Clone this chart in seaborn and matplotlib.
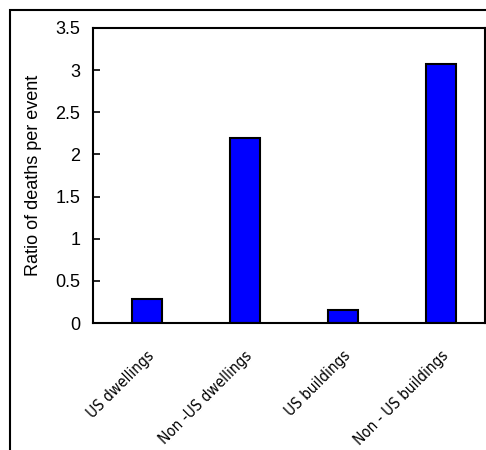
import matplotlib
matplotlib.use('Agg')
import matplotlib.pyplot as plt
import seaborn as sns
from matplotlib.patches import Rectangle

# data
categories = ['US dwellings', 'Non -US dwellings', 'US buildings', 'Non - US buildings']
ratios = [0.28, 2.20, 0.155, 3.07]
yticks = [0, 0.5, 1, 1.5, 2, 2.5, 3, 3.5]
ytick_labels = ['0', '0.5', '1', '1.5', '2', '2.5', '3', '3.5']

sns.set_style('ticks')
plt.rcParams['font.family'] = ['Liberation Sans', 'DejaVu Sans']
plt.rcParams['text.color'] = 'black'
plt.rcParams['axes.labelcolor'] = 'black'
plt.rcParams['xtick.color'] = 'black'
plt.rcParams['ytick.color'] = 'black'

fig = plt.figure(figsize=(4.86, 4.5), dpi=100)
ax = fig.add_axes([93 / 486, 1 - 323 / 450, 392 / 486, 295 / 450])

sns.barplot(x=categories, y=ratios, color='#0000FF', saturation=1, width=0.3,
            edgecolor='black', linewidth=1.5, ax=ax)

ax.set_xlim(-0.55, 3.45)
ax.set_ylim(0, 3.5)
ax.set_yticks(yticks)
ax.set_yticklabels(ytick_labels, fontsize=13)
ax.tick_params(axis='y', direction='in', length=5, width=1.2, pad=9)
ax.tick_params(axis='x', length=0, pad=18)
ax.set_xticks(range(len(categories)))
ax.set_xticklabels(categories, rotation=45, ha='right', rotation_mode='anchor',
                   fontsize=11, family='DejaVu Sans', fontstretch='condensed')
ax.set_ylabel('Ratio of deaths per event', fontsize=13, labelpad=10)
ax.set_xlabel('')

for s in ax.spines.values():
    s.set_visible(True)
    s.set_color('black')
    s.set_linewidth(1.5)

# outer chart-area border, running off the right and bottom edges
fig.patches.append(Rectangle((10 / 486, -0.05), 1.1, 1 - 10 / 450 + 0.05,
                             transform=fig.transFigure, fill=False,
                             edgecolor='black', linewidth=1.5))

fig.savefig('out.png', dpi=100)
